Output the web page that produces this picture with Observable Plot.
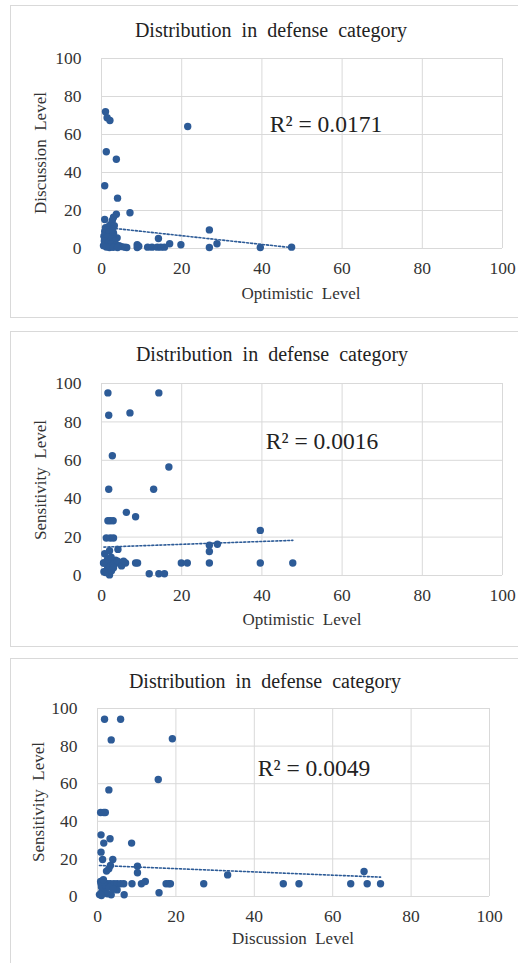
<!DOCTYPE html>
<html>
<head>
<meta charset="utf-8">
<script src="https://cdn.jsdelivr.net/npm/d3@7"></script>
<script src="https://cdn.jsdelivr.net/npm/@observablehq/plot@0.6"></script>
<style>
  html, body { margin: 0; padding: 0; background: #fff; }
  body { width: 518px; height: 963px; position: relative; overflow: hidden; font-family: "Liberation Serif", "Times New Roman", serif; color: #333; }
  .frame { position: absolute; border: 1px solid #d9d9d9; box-sizing: border-box; }
  .svgwrap { position: absolute; left: 0; }
  .txt { position: absolute; white-space: pre; line-height: 1; transform: translate(-50%, -50%); }
  .rot { transform: translate(-50%, -50%) rotate(-90deg); }
</style>
</head>
<body>
<script>
// ---------- data ----------
const titleText = "Distribution  in  defense  category";
const ticks = [0, 20, 40, 60, 80, 100];
const r2Labels = ["R\u00b2 = 0.0171", "R\u00b2 = 0.0016", "R\u00b2 = 0.0049"];
const axisNames = ["Optimistic  Level", "Discussion  Level", "Sensitivity  Level"];

// Panel 1: Optimistic (x) vs Discussion (y)
const p1Optimistic = [1, 1.4, 2.1, 21.5, 1.2, 3.7, 0.8, 4, 0.8, 3.7, 3, 2.7, 7.1, 26.9, 14.2, 28.8, 26.9, 19.8, 17, 11.5, 12.6, 13.9, 14.8, 15.7, 39.6, 47.4, 8.9, 8.9, 9.3, 5.8, 6.3, 3.9, 1.8,
  1, 2.2, 0.8, 1.8, 3, 0.6, 1.5, 2.6, 3.3, 0.7, 1.6, 2.4, 3.6, 4.4, 5, 0.5, 1.2, 2, 2.9, 4, 3.2, 2.8];
const p1Discussion = [72, 68.8, 67.4, 64.2, 50.9, 47, 33, 26.5, 15.3, 18, 16.5, 14.7, 18.8, 9.8, 5.3, 2.5, 0.5, 2, 2.5, 0.7, 0.7, 0.7, 0.7, 0.7, 0.5, 0.7, 2, 0.5, 1.2, 0.7, 0.5, 5.6, 11.6,
  11, 12.5, 9, 8.5, 8, 6.5, 6, 5, 4, 4, 3, 2.5, 2, 1.5, 1, 1.5, 0.8, 0.5, 0.6, 0.5, 12, 10];
// Panel 1 linear trend line (start and end)
const p1TrendX = [0.5, 47.7];
const p1TrendY = [11.2, 0.4];

// Panel 2: Optimistic (x) vs Sensitivity (y)
const p2Optimistic = [1.6, 14.3, 1.8, 7.1, 2.7, 16.8, 1.8, 13, 6.2, 8.5, 1.6, 2.2, 2.9, 1.2, 2.2, 3, 0.8, 2, 4.1, 26.9, 26.9, 28.9, 39.6,
  0.6, 1, 1.8, 2.7, 3.5, 4.3, 5.1, 6, 8.5, 9, 19.9, 21.4, 26.9, 39.6, 47.7,
  11.9, 14.3, 15.7,
  0.6, 1.5, 2, 2, 2.8, 3.5, 4, 5, 1, 2.5, 3, 0.5, 1.5, 2.4, 5.5];
const p2Sensitivity = [95.1, 95.1, 83.5, 84.7, 62.4, 56.5, 44.9, 44.9, 32.9, 30.6, 28.5, 28.5, 28.5, 19.5, 19.5, 19.5, 11.3, 12.9, 13.6, 15.8, 12.5, 16.3, 23.5,
  6.5, 6.5, 6.5, 6.5, 6.5, 6.5, 6.5, 6.5, 6.5, 6.5, 6.5, 6.5, 6.5, 6.5, 6.5,
  0.9, 0.9, 0.9,
  2, 3.5, 0.3, 5, 6, 8, 7.5, 5, 1.5, 2.5, 4, 6.5, 8.5, 9.5, 7.5];
const p2TrendX = [0.6, 47.7];
const p2TrendY = [14.8, 18.3];

// Panel 3: Discussion (x) vs Sensitivity (y)
const p3Discussion = [1.8, 5.9, 3.5, 19.1, 15.5, 2.9, 0.8, 1.6, 2, 0.9, 3.2, 1.6, 8.7, 0.9, 1.3, 3.9, 3.3, 2.9, 2.3, 10.2, 10.2, 33.2, 68,
  0.9, 1.5, 2, 2.6, 3.3, 4.2, 5, 5.9, 6.7, 8.8, 11.2, 17.5, 18.2, 18.6, 27.1, 47.4, 51.4, 64.6, 68.8, 72.2, 12.2,
  15.7, 3.5, 6.8, 5,
  0.5, 1, 1.5, 2, 1, 2, 0.8, 1.5, 3, 2.5, 4, 1];
const p3Sensitivity = [94.3, 94.3, 83.3, 83.9, 62.2, 56.7, 44.7, 44.7, 44.7, 32.8, 30.7, 28.4, 28.4, 23.6, 19.7, 19.7, 16.5, 14.7, 13.5, 16.1, 12.6, 11.5, 13.3,
  6.8, 6.8, 6.8, 6.8, 6.8, 6.8, 6.8, 6.8, 6.8, 6.8, 6.8, 6.8, 6.8, 6.8, 6.8, 6.8, 6.8, 6.8, 6.8, 6.8, 8,
  2, 0.9, 0.9, 3.5,
  1, 2, 3, 4, 5, 6, 8, 9, 5, 1.5, 4, 0.5];
const p3TrendX = [0.5, 72.2];
const p3TrendY = [16.5, 10.3];

// ---------- drawing ----------
const BLUE = "#2d5b97";
const GRID = "#d9d9d9";

function zip(xs, ys) { return xs.map((x, i) => ({x, y: ys[i]})); }

function addDiv(cls, text, style) {
  const d = document.createElement("div");
  d.className = cls;
  d.textContent = text;
  Object.assign(d.style, style);
  document.body.appendChild(d);
  return d;
}

const panels = [
  {data: zip(p1Optimistic, p1Discussion), trend: zip(p1TrendX, p1TrendY), xName: axisNames[0], yName: axisNames[1], r2: r2Labels[0],
   frame: {left: 10, top: 5, width: 520, height: 313},
   svgTop: 0, svgH: 320, ml: 101, mr: 16, mt: 58, mb: 72,
   title: [271, 30], xl: [301, 293], yl: [40, 153], r2p: [326, 125]},
  {data: zip(p2Optimistic, p2Sensitivity), trend: zip(p2TrendX, p2TrendY), xName: axisNames[0], yName: axisNames[2], r2: r2Labels[1],
   frame: {left: 10, top: 331, width: 520, height: 316},
   svgTop: 325, svgH: 320, ml: 101, mr: 16, mt: 58, mb: 70,
   title: [272, 354], xl: [302, 619], yl: [40, 480], r2p: [322, 442]},
  {data: zip(p3Discussion, p3Sensitivity), trend: zip(p3TrendX, p3TrendY), xName: axisNames[1], yName: axisNames[2], r2: r2Labels[2],
   frame: {left: 10, top: 658, width: 520, height: 320},
   svgTop: 655, svgH: 308, ml: 97, mr: 29, mt: 53, mb: 67,
   title: [265, 681], xl: [293, 938], yl: [38, 802], r2p: [314, 769]}
];

for (const p of panels) {
  const f = document.createElement("div");
  f.className = "frame";
  Object.assign(f.style, {left: p.frame.left + "px", top: p.frame.top + "px", width: p.frame.width + "px", height: p.frame.height + "px"});
  document.body.appendChild(f);

  const chart = Plot.plot({
    width: 518,
    height: p.svgH,
    marginLeft: p.ml, marginRight: p.mr, marginTop: p.mt, marginBottom: p.mb,
    style: {fontFamily: "Liberation Serif, Times New Roman, serif", fontSize: "17.5px", color: "#333", background: "transparent", overflow: "visible"},
    x: {domain: [0, 100], ticks: ticks, label: null},
    y: {domain: [0, 100], ticks: ticks, label: null},
    marks: [
      Plot.gridX(ticks, {stroke: GRID, strokeOpacity: 1, strokeWidth: 1}),
      Plot.gridY(ticks, {stroke: GRID, strokeOpacity: 1, strokeWidth: 1}),
      Plot.axisX(ticks, {tickSize: 0, tickPadding: 13, label: null, fill: "#333"}),
      Plot.axisY(ticks, {tickSize: 0, tickPadding: 20, label: null, fill: "#333"}),
      Plot.dot(p.data, {x: "x", y: "y", r: 3.7, fill: BLUE, stroke: "none"}),
      Plot.line(p.trend, {x: "x", y: "y", stroke: BLUE, strokeWidth: 1.6, strokeDasharray: "2,2"})
    ]
  });
  const w = document.createElement("div");
  w.className = "svgwrap";
  w.style.top = p.svgTop + "px";
  w.appendChild(chart);
  document.body.appendChild(w);

  addDiv("txt", titleText, {left: p.title[0] + "px", top: p.title[1] + "px", fontSize: "20px", color: "#222"});
  addDiv("txt", p.xName, {left: p.xl[0] + "px", top: p.xl[1] + "px", fontSize: "17px", color: "#333"});
  addDiv("txt rot", p.yName, {left: p.yl[0] + "px", top: p.yl[1] + "px", fontSize: "17px", color: "#333"});
  addDiv("txt", p.r2, {left: p.r2p[0] + "px", top: p.r2p[1] + "px", fontSize: "23.5px", color: "#222"});
}
</script>
</body>
</html>
